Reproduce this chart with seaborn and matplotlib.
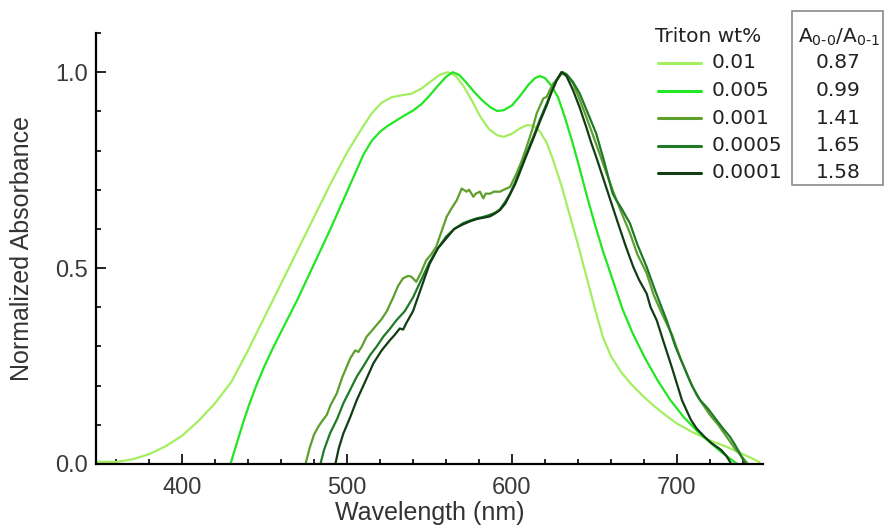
import numpy as np
import pandas as pd
import matplotlib
matplotlib.use("Agg")
import matplotlib.pyplot as plt
from matplotlib.lines import Line2D
from matplotlib.patches import Rectangle
from matplotlib.ticker import MultipleLocator
import seaborn as sns

# ---------------- data ----------------
wl_001 = [348, 360, 370, 380, 390, 400, 410, 420, 430, 440, 450, 460, 470, 480, 490, 500,
          508, 515, 521, 527, 533, 539, 545, 551, 556, 561, 566, 571, 576, 581, 586, 591,
          595, 600, 605, 609, 613, 617, 621, 625, 630, 635, 640, 645, 650, 655, 660, 666,
          672, 679, 685, 692, 700, 710, 720, 730, 740, 750]
ab_001 = [0.006, 0.005, 0.012, 0.025, 0.045, 0.072, 0.11, 0.155, 0.21, 0.29, 0.375, 0.46,
          0.545, 0.63, 0.715, 0.795, 0.85, 0.895, 0.922, 0.936, 0.941, 0.945, 0.958, 0.977,
          0.993, 1.0, 0.99, 0.962, 0.925, 0.885, 0.855, 0.839, 0.835, 0.843, 0.857, 0.865,
          0.863, 0.848, 0.82, 0.775, 0.71, 0.635, 0.56, 0.48, 0.40, 0.325, 0.275, 0.235,
          0.205, 0.175, 0.152, 0.128, 0.103, 0.08, 0.06, 0.044, 0.025, 0.005]

wl_0005 = [429, 433, 437, 441, 445, 450, 455, 460, 470, 480, 490, 500, 510, 515, 520, 525,
           530, 535, 540, 545, 550, 555, 560, 564, 568, 572, 577, 582, 587, 591, 595, 600,
           605, 610, 614, 617, 620, 624, 628, 632, 636, 640, 645, 650, 655, 661, 667, 673,
           680, 688, 696, 704, 712, 720, 727, 734, 738]
ab_0005 = [-0.005, 0.05, 0.105, 0.155, 0.2, 0.25, 0.295, 0.337, 0.42, 0.51, 0.60, 0.695,
           0.79, 0.825, 0.848, 0.864, 0.877, 0.89, 0.902, 0.918, 0.94, 0.965, 0.988, 1.0,
           0.993, 0.975, 0.95, 0.928, 0.91, 0.901, 0.903, 0.915, 0.94, 0.968, 0.985, 0.99,
           0.985, 0.965, 0.935, 0.885, 0.83, 0.77, 0.69, 0.615, 0.545, 0.47, 0.395, 0.335,
           0.275, 0.215, 0.163, 0.12, 0.085, 0.055, 0.03, 0.008, -0.005]

wl_0001 = [474.5, 477.6, 480, 482.6, 485, 487.7, 490, 493.8, 497, 499.8, 502, 503.8, 505,
           506.9, 509, 511.9, 515, 518, 521, 524, 528, 531, 534, 537, 539, 542, 545, 548,
           551, 554, 557, 560.4, 563, 566.5, 569.5, 572.5, 574, 576.6, 578, 580.6, 582.6,
           584, 586.7, 589, 592.7, 595, 598.8, 602.8, 606, 608.9, 612, 615, 619, 621, 623,
           625, 629, 631, 634, 637, 641, 645, 649, 653, 657, 661, 666, 671.5, 676, 681.6,
           686, 691.7, 697, 702, 707, 712, 716, 720, 725, 730, 735, 740, 744]
ab_0001 = [-0.005, 0.044, 0.075, 0.095, 0.11, 0.125, 0.15, 0.18, 0.22, 0.248, 0.27, 0.282,
           0.29, 0.286, 0.30, 0.325, 0.34, 0.355, 0.37, 0.389, 0.425, 0.455, 0.474, 0.48,
           0.478, 0.465, 0.49, 0.52, 0.535, 0.554, 0.59, 0.631, 0.65, 0.673, 0.703, 0.695,
           0.70, 0.682, 0.69, 0.695, 0.678, 0.69, 0.69, 0.695, 0.695, 0.70, 0.707, 0.742,
           0.775, 0.81, 0.85, 0.895, 0.933, 0.937, 0.955, 0.971, 0.99, 1.0, 0.99, 0.971,
           0.93, 0.886, 0.84, 0.793, 0.745, 0.699, 0.645, 0.589, 0.535, 0.487, 0.43, 0.376,
           0.33, 0.27, 0.22, 0.175, 0.15, 0.125, 0.10, 0.07, 0.04, 0.015, -0.005]

wl_00005 = [483.6, 486, 489.7, 494, 497.8, 502, 505.9, 510, 514, 518, 522, 526, 530, 535,
            540, 545, 550, 555, 560, 565, 570.5, 575, 578.6, 582, 586.7, 590, 592.7, 596,
            598.8, 602, 604.8, 609, 612.9, 617, 621, 624, 627, 630, 633, 637, 641, 646, 651,
            656, 661, 663, 666, 671.5, 676, 681.6, 687, 693.7, 699, 704, 709, 714, 719, 724,
            728, 732, 735, 738, 742]
ab_00005 = [-0.005, 0.035, 0.078, 0.115, 0.155, 0.19, 0.223, 0.25, 0.278, 0.30, 0.325,
            0.345, 0.367, 0.39, 0.425, 0.47, 0.515, 0.55, 0.58, 0.60, 0.615, 0.622, 0.627,
            0.63, 0.636, 0.642, 0.65, 0.67, 0.69, 0.72, 0.75, 0.795, 0.835, 0.88, 0.92, 0.95,
            0.98, 1.0, 0.995, 0.975, 0.946, 0.895, 0.844, 0.77, 0.69, 0.675, 0.655, 0.614,
            0.56, 0.503, 0.44, 0.367, 0.30, 0.25, 0.2, 0.163, 0.14, 0.112, 0.09, 0.07, 0.05,
            0.028, -0.005]

wl_00001 = [492.7, 495, 497.8, 502, 505.9, 511, 516, 521, 526, 529, 532, 534, 536, 540, 545,
            550, 555, 560, 565, 570.5, 575, 578.6, 582, 586.7, 590, 592.7, 596, 598.8, 602,
            604.8, 609, 612.9, 617, 621, 624, 627, 630, 633, 637, 641, 645, 648, 651, 656,
            661, 665, 669, 673.5, 677, 681.6, 684, 687.7, 692, 697, 703, 706, 708.5, 712,
            716.5, 721, 726.7, 730, 733.7]
ab_00001 = [-0.005, 0.04, 0.078, 0.12, 0.163, 0.21, 0.257, 0.29, 0.316, 0.33, 0.346, 0.343,
            0.36, 0.39, 0.45, 0.51, 0.55, 0.575, 0.60, 0.612, 0.62, 0.625, 0.628, 0.632, 0.64,
            0.648, 0.665, 0.688, 0.715, 0.745, 0.79, 0.83, 0.875, 0.915, 0.95, 0.978, 1.0,
            0.99, 0.954, 0.91, 0.86, 0.82, 0.784, 0.72, 0.656, 0.605, 0.555, 0.503, 0.47,
            0.435, 0.40, 0.367, 0.31, 0.245, 0.163, 0.135, 0.112, 0.09, 0.07, 0.053, 0.036,
            0.02, -0.005]

series_labels = ["0.01", "0.005", "0.001", "0.0005", "0.0001"]
ratio_labels = ["0.87", "0.99", "1.41", "1.65", "1.58"]
colors = ["#a4ee62", "#22e622", "#5e9e2c", "#1f7a28", "#123d14"]
x_ticks = [400, 500, 600, 700]
y_ticks = [0.0, 0.5, 1.0]

# ---------------- build dataframe ----------------
frames = []
for lab, w, a in zip(series_labels,
                     [wl_001, wl_0005, wl_0001, wl_00005, wl_00001],
                     [ab_001, ab_0005, ab_0001, ab_00005, ab_00001]):
    frames.append(pd.DataFrame({"wl": w, "A": a, "series": lab}))
df = pd.concat(frames, ignore_index=True)

# ---------------- figure ----------------
sns.set_theme(style="ticks")
plt.rcParams["font.family"] = ["Liberation Sans", "DejaVu Sans"]
plt.rcParams["mathtext.default"] = "regular"

W, H = 885, 529
fig = plt.figure(figsize=(W / 100, H / 100), dpi=100)
fig.patch.set_facecolor("white")

def fx(x):
    return x / W

def fy(y):
    return 1 - y / H

ax_left, ax_right, ax_top, ax_bot = 96.2, 762.8, 33, 464
ax = fig.add_axes([fx(ax_left), fy(ax_bot), (ax_right - ax_left) / W, (ax_bot - ax_top) / H])
ax.set_facecolor("white")

sns.lineplot(data=df, x="wl", y="A", hue="series", hue_order=series_labels,
             palette=dict(zip(series_labels, colors)), estimator=None, sort=False,
             legend=False, linewidth=1.6, ax=ax)

ax.set_xlim(348, 752)
ax.set_ylim(0, 1.1)
ax.set_xticks(x_ticks)
ax.set_yticks(y_ticks)
ax.set_yticklabels([f"{v:.1f}" for v in y_ticks])
ax.xaxis.set_minor_locator(MultipleLocator(20))
ax.yaxis.set_minor_locator(MultipleLocator(0.1))
for s in ["top", "right"]:
    ax.spines[s].set_visible(False)
for s in ["left", "bottom"]:
    ax.spines[s].set_linewidth(1.6)
    ax.spines[s].set_color("black")
ax.tick_params(which="major", direction="in", length=7.5, width=1.2, color="black",
               labelsize=17, labelcolor="#3a3a3a")
ax.tick_params(which="minor", direction="in", length=3.8, width=1.2, color="black")
ax.tick_params(axis="x", which="major", pad=9)
ax.tick_params(axis="y", which="major", pad=6)
ax.set_xlabel("Wavelength (nm)", fontsize=18, color="#333333", labelpad=2)
ax.set_ylabel("Normalized Absorbance", fontsize=18, color="#333333", labelpad=15)
ax.grid(False)

# ---------------- legend (manual, pixel placed) ----------------
leg_font = ["DejaVu Sans"]
fig.text(fx(655), fy(36), "Triton wt%", fontsize=14.5, family=leg_font, color="#222222",
         ha="left", va="center")
leg_y = [63, 90.5, 118, 145.5, 173]
for yy, lab, col in zip(leg_y, series_labels, colors):
    fig.add_artist(Line2D([fx(658), fx(701)], [fy(yy), fy(yy)], color=col, linewidth=2.2,
                          transform=fig.transFigure))
    fig.text(fx(712), fy(yy), lab, fontsize=14.5, family=leg_font, color="#222222",
             ha="left", va="center")

# ratio table
fig.add_artist(Rectangle((fx(792), fy(185)), fx(883) - fx(792), fy(11) - fy(185),
                         transform=fig.transFigure, fill=False, edgecolor="#8a8a8a",
                         linewidth=1.2))
fig.text(fx(839), fy(37), r"A$_{0\text{-}0}$/A$_{0\text{-}1}$", fontsize=14.5,
         family=leg_font, color="#222222", ha="center", va="center")
for yy, r in zip(leg_y, ratio_labels):
    fig.text(fx(838), fy(yy), r, fontsize=14.5, family=leg_font, color="#222222",
             ha="center", va="center")

fig.savefig("out.png", dpi=100)
